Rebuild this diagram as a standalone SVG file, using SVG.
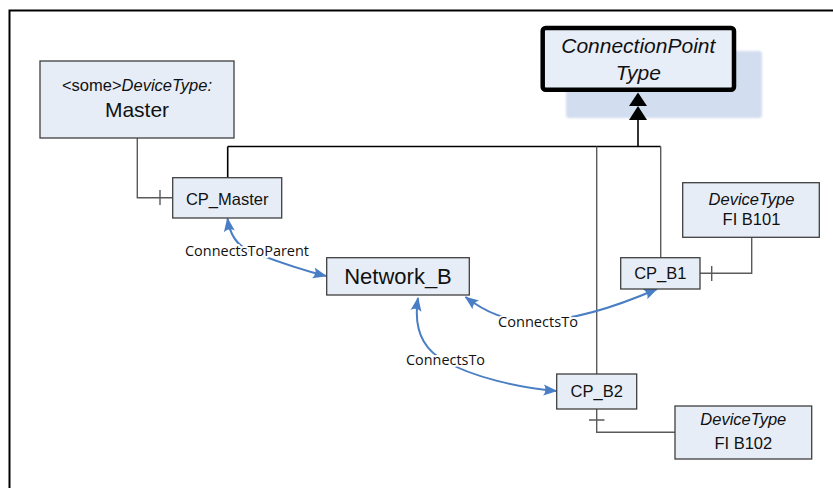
<svg xmlns="http://www.w3.org/2000/svg" width="833" height="488" viewBox="0 0 833 488">
  <style>
    .box { fill: #e7edf7; stroke: #3f3f3f; stroke-width: 1.3; }
    .t { font-family: "Liberation Sans", Arial, sans-serif; fill: #111; text-anchor: middle; }
    .it { font-style: italic; }
    .gen { stroke: #000; stroke-width: 1.6; fill: none; }
    .own { stroke: #5a5a5a; stroke-width: 1.4; fill: none; }
    .ref { stroke: #4a7ec4; stroke-width: 2; fill: none; marker-start: url(#ah); marker-end: url(#ah); }
    .lbl { font-family: "Open Sans", "Noto Sans", sans-serif; font-size: 14px; fill: #111; text-anchor: middle;
           stroke: #fff; stroke-width: 4; paint-order: stroke; stroke-linejoin: round; }
  </style>
  <defs>
    <marker id="ah" viewBox="0 0 14 12" refX="13" refY="6" markerWidth="14" markerHeight="12"
            markerUnits="userSpaceOnUse" orient="auto-start-reverse">
      <path d="M0,0.5 L14,6 L0,11.5 Q4,6 0,0.5 z" fill="#4a7ec4"/>
    </marker>
    <filter id="soft" x="-5%" y="-5%" width="110%" height="110%">
      <feGaussianBlur stdDeviation="0.8"/>
    </filter>
  </defs>

  <!-- frame -->
  <rect x="9.5" y="10.5" width="900" height="600" fill="#fff" stroke="#000" stroke-width="2"/>

  <!-- abstract base type, with its shadow plate -->
  <g id="connection-point-type">
    <rect x="566" y="51" width="196" height="67" rx="3" fill="#d2ddef" filter="url(#soft)"/>
    <rect x="542.7" y="28" width="191.3" height="61.7" rx="3" fill="#e8eef8" stroke="#000" stroke-width="4.5"/>
    <text class="t it" x="638.3" y="53" font-size="21">ConnectionPoint</text>
    <text class="t it" x="638.3" y="80" font-size="21">Type</text>
  </g>

  <!-- connectors -->
  <g id="connectors">
    <!-- generalization to ConnectionPointType -->
    <path class="gen" d="M638,119 V146.5 M227.7,146.5 H660.7 M227.7,146.5 V177.7" stroke-width="2"/>
    <path class="own" d="M596.7,146.5 V374 M660.7,146.5 V257.7"/>
    <polygon points="638,92.5 629,106 647,106" fill="#000"/>
    <polygon points="638,106 629,120 647,120" fill="#000"/>

    <!-- device ownership links -->
    <path class="own" d="M137.3,138 V197.7 H172.7 M160,190 V205"/>
    <path class="own" d="M751.7,237.3 V273.3 H700 M711.7,266 V281"/>
    <path class="own" d="M596.7,409 V432.3 H675 M589,420 H604.5"/>

    <!-- references -->
    <path class="ref" d="M227.5,218.5 C230,236 238,246 250,251 C278,262 302,270 326,276"/>
    <path class="ref" d="M657,289 C620,305 575,320 538,321 C505,322 484,311 465.5,297"/>
    <path class="ref" d="M418,298 C413,330 424,350 445,361 C472,377 520,388 556.5,391"/>
    <text class="lbl" x="247" y="255.5" textLength="124" lengthAdjust="spacingAndGlyphs">ConnectsToParent</text>
    <text class="lbl" x="538" y="327" textLength="80" lengthAdjust="spacingAndGlyphs">ConnectsTo</text>
    <text class="lbl" x="445.5" y="365" textLength="79" lengthAdjust="spacingAndGlyphs">ConnectsTo</text>
  </g>

  <!-- nodes -->
  <g id="master">
    <rect class="box" x="40" y="61" width="194" height="77"/>
    <text class="t" x="137" y="90.5" font-size="16.5">&lt;some&gt;<tspan class="it">DeviceType:</tspan></text>
    <text class="t" x="137" y="117" font-size="21">Master</text>
  </g>

  <g id="cp-master">
    <rect class="box" x="172.7" y="177.7" width="109" height="40.3"/>
    <text class="t" x="227.2" y="204.5" font-size="16.5">CP_Master</text>
  </g>

  <g id="network-b">
    <rect class="box" x="326.7" y="257.7" width="142.6" height="37.3"/>
    <text class="t" x="398" y="283.5" font-size="22">Network_B</text>
  </g>

  <g id="cp-b1">
    <rect class="box" x="620.7" y="257.7" width="79.3" height="31.3"/>
    <text class="t" x="660.3" y="278.5" font-size="16.5">CP_B1</text>
  </g>

  <g id="fi-b101">
    <rect class="box" x="682.7" y="182.7" width="136.6" height="54.6"/>
    <text class="t it" x="751.5" y="204.5" font-size="16.5">DeviceType</text>
    <text class="t" x="751.5" y="225" font-size="16.5">FI B101</text>
  </g>

  <g id="cp-b2">
    <rect class="box" x="556.7" y="374" width="80" height="35"/>
    <text class="t" x="596.7" y="396.7" font-size="16.5">CP_B2</text>
  </g>

  <g id="fi-b102">
    <rect class="box" x="675" y="406" width="136.7" height="53"/>
    <text class="t it" x="743.3" y="424.5" font-size="16.5">DeviceType</text>
    <text class="t" x="743.3" y="448.5" font-size="16.5">FI B102</text>
  </g>
</svg>
